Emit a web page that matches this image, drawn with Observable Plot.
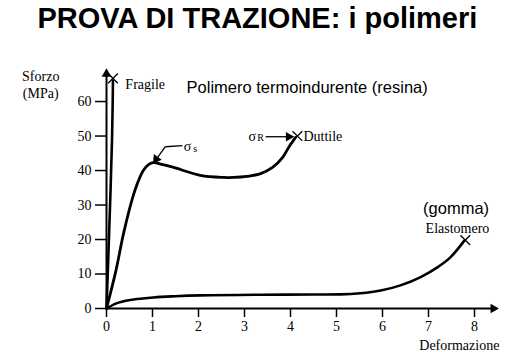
<!DOCTYPE html>
<html>
<head>
<meta charset="utf-8">
<script src="https://cdn.jsdelivr.net/npm/d3@7"></script>
<script src="https://cdn.jsdelivr.net/npm/@observablehq/plot@0.6"></script>
<style>
  html, body { margin: 0; padding: 0; background: #fff; }
</style>
</head>
<body>
<div id="chart"></div>
<script>
// Curves (deformation, stress in MPa)
const fragileX = [0, 0.04, 0.08, 0.12, 0.135, 0.14];
const fragileY = [0, 15, 31, 49, 60, 66];
const duttileX = [0, 0.2, 0.37, 0.57, 0.67, 0.8, 0.92, 1.02, 1.2, 1.46, 2.04, 2.54, 2.76, 3.05, 3.35, 3.61, 3.83, 3.96, 4.11];
const duttileY = [0, 10.7, 21.7, 32.2, 36.2, 40, 41.8, 42.3, 41.8, 40.9, 38.6, 38.0, 38.0, 38.3, 39.1, 40.9, 43.8, 46.7, 49.6];
const elastoX = [0, 0.2, 0.59, 1.02, 1.5, 2.04, 3.35, 4.5, 5.09, 5.52, 5.96, 6.39, 6.83, 7.2, 7.48, 7.7, 7.78];
const elastoY = [0, 1.4, 2.6, 3.2, 3.55, 3.8, 4.0, 4.05, 4.1, 4.4, 5.2, 6.7, 9.1, 12.0, 14.9, 18.3, 19.7];

// Break points (×)
const breakX = [0.14, 4.15, 7.8];
const breakY = [66.7, 50.0, 19.8];

// Axis ticks
const xTicks = [0, 1, 2, 3, 4, 5, 6, 7, 8];
const yTicks = [0, 10, 20, 30, 40, 50, 60];

// Labels
const titleText = "PROVA DI TRAZIONE: i polimeri";
const serifStart = [
  {x: 0.41, y: 65.0, text: "Fragile"},
  {x: 4.28, y: 49.8, text: "Duttile"}
];
const serifMiddle = [
  {x: 7.63, y: 23.5, text: "Elastomero"},
  {x: 7.67, y: -10.4, text: "Deformazione"},
  {x: -1.43, y: 65.0, text: "Sforzo\n(MPa)"}
];
const sansStart = [
  {x: 1.74, y: 64.0, text: "Polimero termoindurente (resina)"}
];
const sansMiddle = [
  {x: 7.6, y: 29.0, text: "(gomma)"}
];
const sigmaLabels = [
  {x: 1.76, y: 47.0, text: "σ", size: 14},
  {x: 1.93, y: 46.3, text: "s", size: 10},
  {x: 3.17, y: 49.8, text: "σ", size: 14},
  {x: 3.35, y: 49.5, text: "R", size: 10}
];
// pointer segments
const pointers = [
  {x1: 1.65, y1: 47.2, x2: 1.28, y2: 46.9},
  {x1: 1.28, y1: 46.9, x2: 1.1, y2: 43.6},
  {x1: 3.46, y1: 49.8, x2: 3.94, y2: 49.8}
];
const heads = [
  {x: 1.08, y: 43.3, rot: 215},
  {x: 3.96, y: 49.8, rot: 90},
  {x: 8.41, y: 0, rot: 90},
  {x: 0, y: 68.0, rot: 0}
];

const fragile = fragileX.map((x, i) => ({x, y: fragileY[i]}));
const duttile = duttileX.map((x, i) => ({x, y: duttileY[i]}));
const elasto = elastoX.map((x, i) => ({x, y: elastoY[i]}));
const breaks = breakX.map((x, i) => ({x, y: breakY[i]}));

const serif = "Liberation Serif, Times New Roman, serif";
const sans = "Liberation Sans, Arial, sans-serif";

const chart = Plot.plot({
  width: 509,
  height: 352,
  marginLeft: 106,
  marginRight: 12,
  marginBottom: 44,
  marginTop: 70,
  x: {domain: [0, 8.5]},
  y: {domain: [0, 69]},
  style: {fontFamily: serif, fontSize: "14px", color: "black", background: "white"},
  marks: [
    Plot.axisX({ticks: xTicks, tickSize: 9, tickPadding: 4, fontSize: 14, strokeWidth: 1.5, label: null, tickFormat: d => d}),
    Plot.axisY({ticks: yTicks, tickSize: 11, tickPadding: 4, fontSize: 14, strokeWidth: 1.5, label: null, tickFormat: d => d}),
    Plot.ruleY([0], {x1: 0, x2: 8.4, strokeWidth: 2}),
    Plot.ruleX([0], {y1: 0, y2: 67.5, strokeWidth: 2}),
    Plot.line(fragile, {x: "x", y: "y", strokeWidth: 2.6, curve: "monotone-y"}),
    Plot.line(duttile, {x: "x", y: "y", strokeWidth: 2.8, curve: "catmull-rom"}),
    Plot.line(elasto, {x: "x", y: "y", strokeWidth: 2.6, curve: "monotone-x"}),
    Plot.dot(breaks, {x: "x", y: "y", symbol: "times", r: 4.5, stroke: "black", strokeWidth: 1.3}),
    Plot.link(pointers, {x1: "x1", y1: "y1", x2: "x2", y2: "y2", strokeWidth: 1.3}),
    Plot.dot(heads, {x: "x", y: "y", symbol: "triangle", r: 3.6, fill: "black", stroke: null, rotate: "rot"}),
    Plot.text(serifStart, {x: "x", y: "y", text: "text", textAnchor: "start", fontSize: 14, fontFamily: serif, fill: "black"}),
    Plot.text(serifMiddle, {x: "x", y: "y", text: "text", textAnchor: "middle", fontSize: 14, fontFamily: serif, fill: "black", lineHeight: 1.2}),
    Plot.text(sansStart, {x: "x", y: "y", text: "text", textAnchor: "start", fontSize: 16.5, fontFamily: sans, fill: "black"}),
    Plot.text(sansMiddle, {x: "x", y: "y", text: "text", textAnchor: "middle", fontSize: 16.5, fontFamily: sans, fill: "black"}),
    Plot.text(sigmaLabels, {x: "x", y: "y", text: "text", fontSize: "size", fontFamily: serif, fill: "black"}),
    Plot.text([titleText], {x: 3.28, y: 84.1, text: d => d, fontSize: 29, fontWeight: "bold", fontFamily: sans, fill: "black"})
  ]
});
document.getElementById("chart").appendChild(chart);
</script>
</body>
</html>
